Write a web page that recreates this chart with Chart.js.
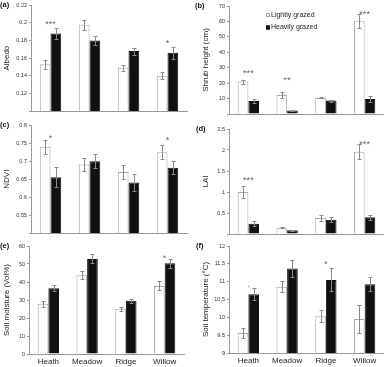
<!DOCTYPE html>
<html lang="en">
<head>
  <meta charset="UTF-8" />
  <title>Grazing effects by site</title>
  <script src="https://cdn.jsdelivr.net/npm/chart.js"></script>
  <style>
    body { margin: 0; background: #fff; }
    .wrap { position: relative; width: 384px; height: 367px; overflow: hidden; }
    canvas { position: absolute; }
  </style>
</head>
<body>
  <div class="wrap">
    <canvas id="pa" width="190" height="120" style="left:0;top:0"></canvas>
    <canvas id="pb" width="192" height="120" style="left:192px;top:0"></canvas>
    <canvas id="pc" width="190" height="120" style="left:0;top:120px"></canvas>
    <canvas id="pd" width="192" height="120" style="left:192px;top:120px"></canvas>
    <canvas id="pe" width="190" height="127" style="left:0;top:240px"></canvas>
    <canvas id="pf" width="192" height="127" style="left:192px;top:240px"></canvas>
  </div>

  <script>
    const sites = ['Heath', 'Meadow', 'Ridge', 'Willow'];
    const grazing = ['Lightly grazed', 'Heavily grazed'];

    // (a) albedo
    const albedoTicks = [0.1, 0.12, 0.14, 0.16, 0.18, 0.2, 0.22];
    const albedoLight = [0.153, 0.198, 0.149, 0.140];
    const albedoLightSe = [0.005, 0.0055, 0.0035, 0.004];
    const albedoHeavy = [0.188, 0.180, 0.168, 0.166];
    const albedoHeavySe = [0.006, 0.0055, 0.004, 0.007];
    const albedoSig = [[0, '***', 0.200], [3, '*', 0.179]];

    // (b) shrub height
    const shrubTicks = [0, 10, 20, 30, 40, 50, 60, 70];
    const shrubLight = [21.0, 12.3, 10.4, 60.4];
    const shrubLightSe = [1.3, 1.8, 0.3, 4.5];
    const shrubHeavy = [8.4, 2.2, 8.7, 9.7];
    const shrubHeavySe = [1.3, 0.4, 0.6, 1.7];
    const shrubSig = [[0, '***', 27.4], [1, '**', 22.7], [3, '***', 66.1]];

    // (c) NDVI
    const ndviTicks = [0.5, 0.55, 0.6, 0.65, 0.7, 0.75, 0.8];
    const ndviLight = [0.740, 0.691, 0.670, 0.725];
    const ndviLightSe = [0.020, 0.017, 0.019, 0.020];
    const ndviHeavy = [0.655, 0.700, 0.641, 0.682];
    const ndviHeavySe = [0.028, 0.019, 0.024, 0.018];
    const ndviSig = [[0, '*', 0.769], [3, '*', 0.763]];

    // (d) LAI
    const laiTicks = [0, 0.5, 1, 1.5, 2, 2.5];
    const laiLight = [1.00, 0.15, 0.38, 1.96];
    const laiLightSe = [0.147, 0.01, 0.07, 0.18];
    const laiHeavy = [0.246, 0.087, 0.34, 0.397];
    const laiHeavySe = [0.06, 0.02, 0.06, 0.06];
    const laiSig = [[0, '***', 1.31], [3, '***', 2.17]];

    // (e) soil moisture
    const moistTicks = [0, 10, 20, 30, 40, 50, 60];
    const moistLight = [27.9, 43.7, 25.2, 37.8];
    const moistLightSe = [1.6, 2.2, 1.1, 2.5];
    const moistHeavy = [36.5, 52.8, 29.6, 50.4];
    const moistHeavySe = [1.7, 2.5, 1.1, 2.4];
    const moistSig = [[3, '*', 54.1]];

    // (f) soil temperature
    const tempTicks = [9, 9.5, 10, 10.5, 11, 11.5, 12];
    const tempLight = [9.56, 10.86, 10.03, 9.95];
    const tempLightSe = [0.15, 0.16, 0.17, 0.39];
    const tempHeavy = [10.65, 11.37, 11.05, 10.93];
    const tempHeavySe = [0.17, 0.23, 0.32, 0.2];
    const tempSig = [[0, '·', 10.91], [2, '*', 11.54]];

    const FONT = "'Liberation Sans', Arial, sans-serif";
    Chart.defaults.font.family = FONT;

    // error bars drawn from the y scale
    const errorBars = {
      id: 'errorBars',
      afterDatasetsDraw(chart) {
        const { ctx, scales: { y } } = chart;
        ctx.save();
        ctx.strokeStyle = '#8a8a8a';
        ctx.lineWidth = 1;
        chart.data.datasets.forEach((ds, i) => {
          chart.getDatasetMeta(i).data.forEach((bar, j) => {
            const v = ds.data[j], e = ds.err[j];
            const x = Math.round(bar.x) + 0.5;
            const t = Math.round(y.getPixelForValue(v + e)) + 0.5;
            const b = Math.round(y.getPixelForValue(v - e)) + 0.5;
            ctx.beginPath();
            ctx.moveTo(x, t); ctx.lineTo(x, b);
            ctx.moveTo(x - 2, t); ctx.lineTo(x + 2, t);
            ctx.moveTo(x - 2, b); ctx.lineTo(x + 2, b);
            ctx.stroke();
          });
        });
        ctx.restore();
      }
    };

    // panel letter, significance stars, legend
    const marks = {
      id: 'marks',
      afterDraw(chart, args, opts) {
        const { ctx, chartArea, scales: { x, y } } = chart;
        ctx.save();
        ctx.textBaseline = 'middle';
        ctx.fillStyle = '#111';
        ctx.font = 'bold 7.5px ' + FONT;
        ctx.fillText(opts.tag, opts.tagX, chartArea.top);

        ctx.fillStyle = '#666';
        ctx.font = '9px ' + FONT;
        ctx.textAlign = 'center';
        (opts.sig || []).forEach(([i, txt, v]) => {
          ctx.fillText(txt, x.getPixelForValue(i), y.getPixelForValue(v) + 2);
        });

        if (opts.key) {
          ctx.textAlign = 'left';
          ctx.font = '7px ' + FONT;
          chart.data.datasets.forEach((ds, i) => {
            const ky = opts.key[1] + i * 12.5;
            ctx.fillStyle = ds.backgroundColor;
            ctx.fillRect(opts.key[0], ky - 2, 4, 4);
            ctx.strokeStyle = ds.borderColor;
            ctx.lineWidth = 1;
            ctx.strokeRect(opts.key[0] + 0.5, ky - 1.5, 3, 3);
            ctx.fillStyle = '#222';
            ctx.fillText(ds.label, opts.key[0] + 5, ky);
          });
        }
        ctx.restore();
      }
    };

    function panel(id, o) {
      return new Chart(document.getElementById(id), {
        type: 'bar',
        data: {
          labels: sites,
          datasets: [
            { label: grazing[0], data: o.light, err: o.lightSe, backgroundColor: '#ffffff', borderColor: '#a8a8a8', borderWidth: 1 },
            { label: grazing[1], data: o.heavy, err: o.heavySe, backgroundColor: '#111111', borderColor: '#111111', borderWidth: 1 }
          ]
        },
        options: {
          responsive: false,
          animation: false,
          layout: { padding: { top: o.top, right: o.right, left: 0, bottom: 0 } },
          datasets: { bar: { categoryPercentage: 0.55, barPercentage: 1 } },
          plugins: {
            legend: { display: false },
            tooltip: { enabled: false },
            marks: { tag: o.tag, tagX: o.tagX, sig: o.sig, key: o.key }
          },
          scales: {
            x: {
              border: { color: '#999' },
              grid: { display: true, drawOnChartArea: false, drawTicks: false },
              ticks: { display: !!o.xLabels, font: { size: 8 }, color: '#222', padding: 3, maxRotation: 0 },
              afterFit: s => { s.height = o.xh; }
            },
            y: {
              min: o.ticks[0],
              max: o.ticks[o.ticks.length - 1],
              border: { color: '#999' },
              grid: { display: true, drawOnChartArea: false, drawTicks: true, tickLength: 2, color: '#999' },
              afterBuildTicks: s => { s.ticks = o.ticks.map(value => ({ value })); },
              ticks: {
                font: { size: 5.5 },
                color: '#333',
                padding: 2,
                callback: (v, i) => (i === 0 && o.hideFirst) ? '' : String(+v.toFixed(3))
              },
              title: { display: true, text: o.title, font: { size: 8 }, color: '#222', padding: { top: o.titlePad, bottom: 0 } },
              afterFit: s => { s.width = o.yw; }
            }
          }
        },
        plugins: [errorBars, marks]
      });
    }

    panel('pa', { tag: '(a)', tagX: 0, title: 'Albedo', ticks: albedoTicks, hideFirst: true,
      light: albedoLight, lightSe: albedoLightSe, heavy: albedoHeavy, heavySe: albedoHeavySe, sig: albedoSig,
      top: 5, right: 3, yw: 31, xh: 9, titlePad: 2 });

    panel('pb', { tag: '(b)', tagX: 3, title: 'Shrub height (cm)', ticks: shrubTicks, hideFirst: true,
      light: shrubLight, lightSe: shrubLightSe, heavy: shrubHeavy, heavySe: shrubHeavySe, sig: shrubSig,
      key: [74, 15], top: 6, right: 0, yw: 37, xh: 6, titlePad: 9 });

    panel('pc', { tag: '(c)', tagX: 0, title: 'NDVI', ticks: ndviTicks, hideFirst: true,
      light: ndviLight, lightSe: ndviLightSe, heavy: ndviHeavy, heavySe: ndviHeavySe, sig: ndviSig,
      top: 5, right: 3, yw: 31, xh: 7, titlePad: 2 });

    panel('pd', { tag: '(d)', tagX: 4, title: 'LAI', ticks: laiTicks, hideFirst: true,
      light: laiLight, lightSe: laiLightSe, heavy: laiHeavy, heavySe: laiHeavySe, sig: laiSig,
      top: 9, right: 0, yw: 37, xh: 6, titlePad: 9 });

    panel('pe', { tag: '(e)', tagX: 0, title: 'Soil moisture (Vol%)', ticks: moistTicks, hideFirst: false, xLabels: true,
      light: moistLight, lightSe: moistLightSe, heavy: moistHeavy, heavySe: moistHeavySe, sig: moistSig,
      top: 6, right: 6, yw: 29, xh: 13, titlePad: 2 });

    panel('pf', { tag: '(f)', tagX: 4, title: 'Soil temperature (°C)', ticks: tempTicks, hideFirst: false, xLabels: true,
      light: tempLight, lightSe: tempLightSe, heavy: tempHeavy, heavySe: tempHeavySe, sig: tempSig,
      top: 6, right: 0, yw: 37, xh: 14, titlePad: 9 });
  </script>
</body>
</html>
